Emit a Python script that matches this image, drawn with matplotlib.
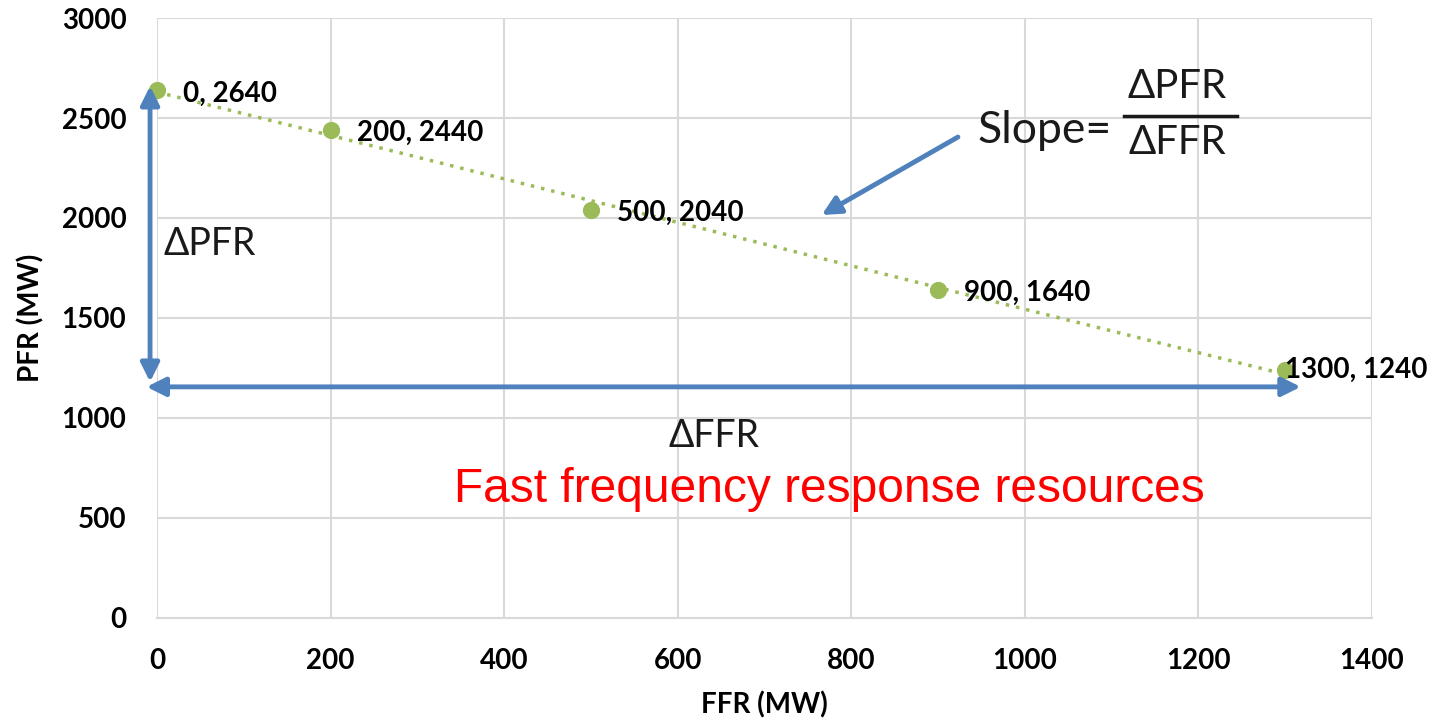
import matplotlib.pyplot as plt
import numpy as np

# data points (FFR, PFR)
ffr = [0, 200, 500, 900, 1300]
pfr = [2640, 2440, 2040, 1640, 1240]
labels = ["0, 2640", "200, 2440", "500, 2040", "900, 1640", "1300, 1240"]
xticks = [0, 200, 400, 600, 800, 1000, 1200, 1400]
yticks = [0, 500, 1000, 1500, 2000, 2500, 3000]

green = "#9BBB59"
blue = "#4F81BD"

plt.rcParams['font.family'] = ['Lato', 'DejaVu Sans']

fig = plt.figure(figsize=(14.35, 7.25), dpi=100)
ax = fig.add_axes([0.1094, 0.148, 0.8466, 0.827])

ax.set_xlim(0, 1400)
ax.set_ylim(0, 3000)
ax.set_xticks(xticks)
ax.set_yticks(yticks)
ax.grid(True, color="#D9D9D9", linewidth=1.5)
ax.set_axisbelow(True)
for s in ["top", "right", "left"]:
    ax.spines[s].set_visible(False)
ax.spines["bottom"].set_color("#D9D9D9")
ax.spines["bottom"].set_linewidth(1.5)
ax.tick_params(length=0, labelsize=20, pad=22)
for lab in ax.get_xticklabels() + ax.get_yticklabels():
    lab.set_fontweight("bold")

ax.set_xlabel("FFR (MW)", fontsize=20, fontweight="bold", labelpad=12)
ax.set_ylabel("PFR (MW)", fontsize=20, fontweight="bold", labelpad=12)

# trendline
coef = np.polyfit(ffr, pfr, 1)
tx = np.array([ffr[0], ffr[-1]])
ax.plot(tx, np.polyval(coef, tx), linestyle=(0, (1, 2)), color=green, linewidth=2.5)
ax.scatter(ffr, pfr, s=130, color=green, zorder=3, clip_on=False)

offsets = [(19, -3), (19, -2), (19, -2), (19, -2), (0, 0)]
for x, y, t, off in zip(ffr, pfr, labels, offsets):
    ax.annotate(t, (x, y), xytext=off, textcoords="offset points",
                ha="left", va="center", fontsize=20, fontweight="bold",
                annotation_clip=False, zorder=4)

# delta arrows
arr = dict(arrowstyle="<|-|>", color=blue, lw=3.5, mutation_scale=28,
           shrinkA=0, shrinkB=0)
ax.annotate("", xy=(-8, 2660), xytext=(-8, 1180), arrowprops=arr,
            annotation_clip=False)
ax.annotate("", xy=(1318, 1155), xytext=(-12, 1155), arrowprops=arr,
            annotation_clip=False)
ax.text(8, 1870, "ΔPFR", fontsize=27, va="center", ha="left", color="#1a1a1a")
ax.text(590, 910, "ΔFFR", fontsize=27, va="center", ha="left", color="#1a1a1a")

# slope annotation
ax.annotate("", xy=(766, 2015), xytext=(923, 2405),
            arrowprops=dict(arrowstyle="-|>", color=blue, lw=3.5,
                            mutation_scale=28, shrinkA=0, shrinkB=0))
ax.text(945, 2440, "Slope=", fontsize=32, va="center", ha="left", color="#1a1a1a")
ax.text(1176, 2660, "ΔPFR", fontsize=29, va="center", ha="center", color="#1a1a1a")
ax.text(1176, 2380, "ΔFFR", fontsize=29, va="center", ha="center", color="#1a1a1a")
ax.plot([1114, 1245], [2510, 2510], color="#1a1a1a", lw=2.5)

ax.text(775, 640, "Fast frequency response resources", fontsize=34.5,
        color="#FF0000", family="Liberation Sans", ha="center", va="center")

fig.savefig("out.png", dpi=100)
